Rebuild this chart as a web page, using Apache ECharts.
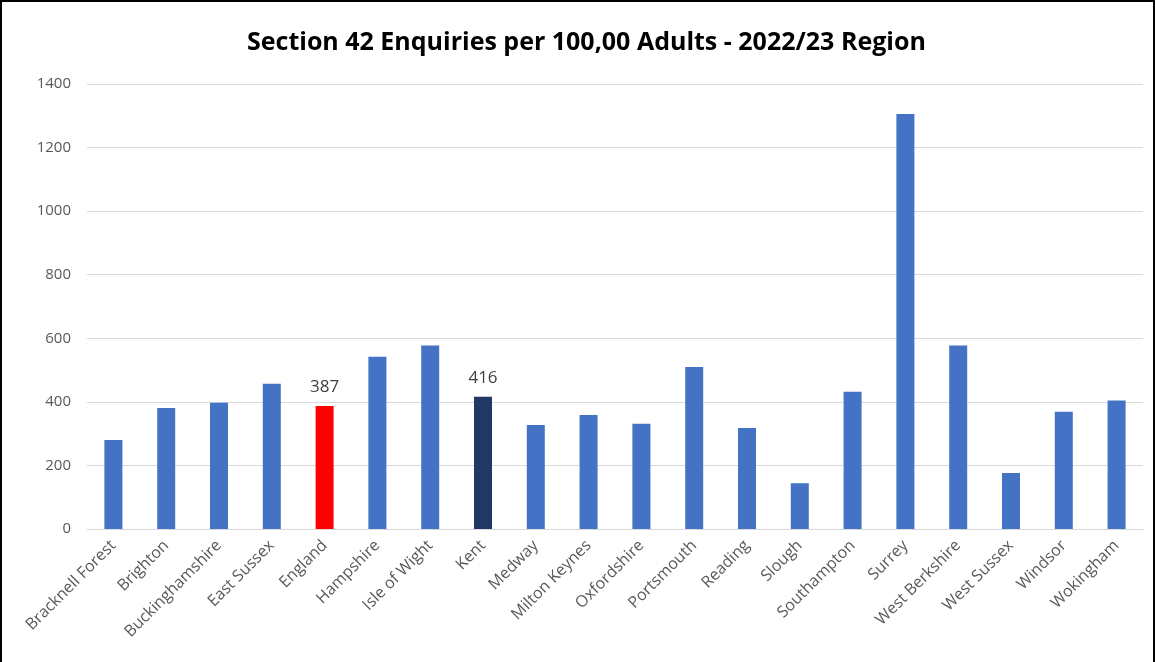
<!DOCTYPE html>
<html>
<head>
<meta charset="utf-8">
<script src="https://cdn.jsdelivr.net/npm/echarts@6/dist/echarts.min.js"></script>
<style>
html,body{margin:0;padding:0;background:#fff;}
#wrap{position:absolute;left:0;top:0;width:1155px;height:662px;box-sizing:border-box;border-left:2px solid #000;border-top:2px solid #000;border-right:2px solid #000;}
#chart{position:absolute;left:0;top:0;width:1155px;height:662px;}
</style>
</head>
<body>
<div id="chart"></div>
<div id="wrap"></div>
<script>
const categories = ["Bracknell Forest","Brighton","Buckinghamshire","East Sussex","England","Hampshire","Isle of Wight","Kent","Medway","Milton Keynes","Oxfordshire","Portsmouth","Reading","Slough","Southampton","Surrey","West Berkshire","West Sussex","Windsor","Wokingham"];
const values = [280,381,397,457,387,542,577,416,327,359,331,510,318,144,432,1306,577,176,369,404];
const yTicks = {min:0, max:1400, interval:200};
const highlighted = {"England":"#FF0000","Kent":"#203864"};
const labelled = ["England","Kent"];

const chart = echarts.init(document.getElementById('chart'));
const data = values.map((v,i)=>{
  const c = categories[i];
  const item = {value:v, itemStyle:{color: highlighted[c] || '#4472C4'}};
  if (labelled.includes(c)) {
    item.label = {show:true, position:'top', distance:10, color:'#404040', fontSize:17, fontFamily:'Open Sans'};
  }
  return item;
});
chart.setOption({
  animation:false,
  backgroundColor:'#fff',
  title:{
    text:'Section 42 Enquiries per 100,00 Adults - 2022/23 Region',
    left:242, top:25,
    textStyle:{fontSize:25, fontWeight:'bold', color:'#000', fontFamily:'Open Sans'}
  },
  grid:{left:87, right:12, top:84, bottom:133, containLabel:false},
  xAxis:{
    type:'category', data:categories,
    axisLine:{lineStyle:{color:'#d9d9d9', width:1}},
    axisTick:{show:false},
    axisLabel:{rotate:45, interval:0, color:'#595959', fontSize:16, fontFamily:'Open Sans', margin:14}
  },
  yAxis:{
    type:'value', min:yTicks.min, max:yTicks.max, interval:yTicks.interval,
    axisLine:{show:false}, axisTick:{show:false},
    axisLabel:{color:'#595959', fontSize:15, fontFamily:'Open Sans', margin:16, formatter:(v)=>String(v)},
    splitLine:{lineStyle:{color:'#d9d9d9', width:1}}
  },
  series:[{type:'bar', data:data, barWidth:18}]
});
</script>
</body>
</html>
